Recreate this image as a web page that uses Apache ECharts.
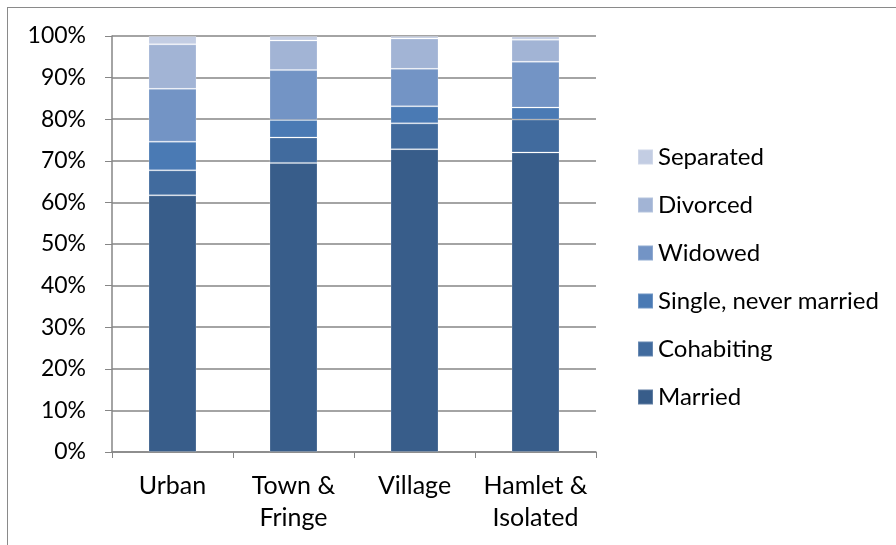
<!DOCTYPE html>
<html>
<head>
<meta charset="utf-8">
<script src="https://cdn.jsdelivr.net/npm/echarts@6/dist/echarts.min.js"></script>
<style>
  html, body { margin: 0; padding: 0; background: #fff; }
  #frame { position: absolute; left: 7px; top: 7px; width: 900px; height: 545px;
           border-left: 1px solid #8a8a8a; border-top: 1px solid #8a8a8a; }
  #chart { position: absolute; left: 0; top: 0; width: 896px; height: 545px; }
</style>
</head>
<body>
<div id="frame"></div>
<div id="chart"></div>
<script>
const categories = ['Urban', 'Town &\nFringe', 'Village', 'Hamlet &\nIsolated']
const married = [61.7, 69.5, 72.8, 72.0]
const cohabiting = [6.0, 6.1, 6.2, 7.9]
const single = [6.9, 4.2, 4.1, 2.9]
const widowed = [12.7, 12.0, 9.0, 11.0]
const divorced = [10.7, 7.1, 7.3, 5.3]
const separated = [2.0, 1.1, 0.6, 0.8]
const legendOrder = ['Separated', 'Divorced', 'Widowed', 'Single, never married', 'Cohabiting', 'Married']

const font = 'Lato, "Open Sans", sans-serif'

function bar(name, data, color) {
  return {
    name: name,
    type: 'bar',
    stack: 'Total',
    barWidth: 48,
    itemStyle: { color: color, borderColor: 'rgba(255,255,255,0.2)', borderWidth: 1 },
    emphasis: { focus: 'series' },
    data: data
  }
}

const chart = echarts.init(document.getElementById('chart'))
const option = {
  animation: false,
  legend: {
    data: legendOrder,
    orient: 'vertical',
    left: 632,
    top: 140,
    icon: 'rect',
    itemWidth: 15,
    itemHeight: 15,
    itemGap: 24,
    textStyle: { fontFamily: font, fontSize: 24, lineHeight: 24, color: '#000', padding: [0, 0, 0, 0] }
  },
  grid: { left: 112, right: 300, top: 36, bottom: 93 },
  xAxis: {
    type: 'category',
    data: categories,
    axisLine: { lineStyle: { color: '#868686', width: 1.5 } },
    axisTick: { show: true, length: 6, lineStyle: { color: '#868686' } },
    axisLabel: { interval: 0, hideOverlap: false, fontFamily: font, fontSize: 25, color: '#000', margin: 18, lineHeight: 32 }
  },
  yAxis: {
    type: 'value',
    min: 0,
    max: 100,
    interval: 10,
    axisLine: { show: true, lineStyle: { color: '#868686', width: 1.5 } },
    axisTick: { show: true, length: 7, lineStyle: { color: '#868686' } },
    splitLine: { lineStyle: { color: '#868686', width: 1.5 } },
    axisLabel: { formatter: '{value}%', fontFamily: font, fontSize: 23, color: '#000', margin: 26 }
  },
  series: [
    bar('Married', married, '#385d8a'),
    bar('Cohabiting', cohabiting, '#416b9e'),
    bar('Single, never married', single, '#4a7ab4'),
    bar('Widowed', widowed, '#7394c5'),
    bar('Divorced', divorced, '#a2b4d5'),
    bar('Separated', separated, '#c3cde3')
  ]
}
chart.setOption(option)
</script>
</body>
</html>
